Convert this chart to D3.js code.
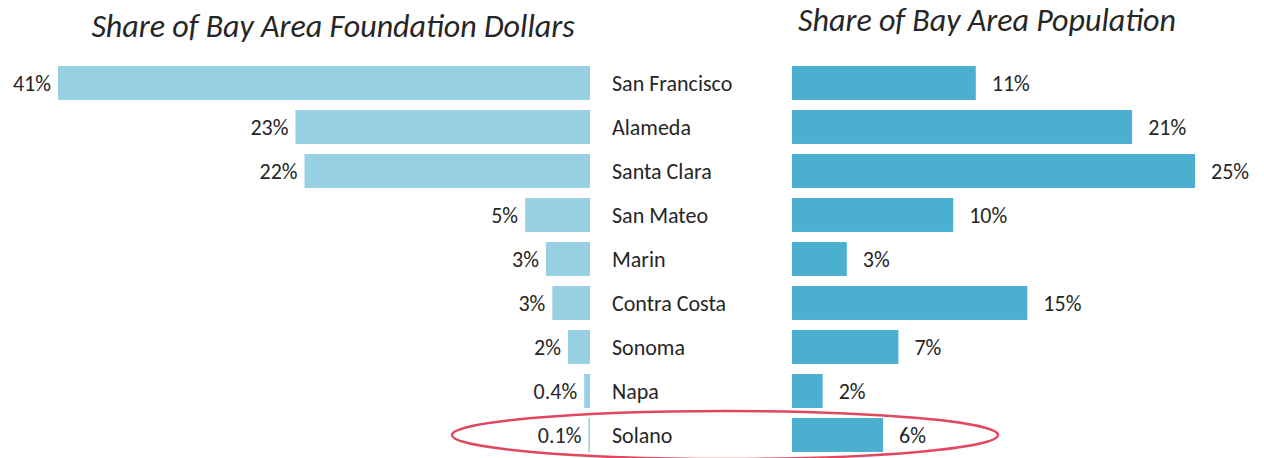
<!DOCTYPE html>
<html lang="en">
<head>
    <meta charset="UTF-8">
    <title>Share of Bay Area Foundation Dollars vs Population</title>
    <script src="https://d3js.org/d3.v7.min.js"></script>
    <style>
        body {
            margin: 0;
            background: #fff;
            font-family: Carlito, Calibri, Lato, sans-serif;
        }
        svg { display: block; }
    </style>
</head>
<body>
<div id="chart"></div>
<script>
// counties, top to bottom
const counties = ["San Francisco", "Alameda", "Santa Clara", "San Mateo", "Marin",
                  "Contra Costa", "Sonoma", "Napa", "Solano"];
// share of foundation dollars (%), with the labels printed on the chart
const dollars = [41, 22.7, 22, 5, 3.4, 2.9, 1.7, 0.45, 0.12];
const dollarLabels = ["41%", "23%", "22%", "5%", "3%", "3%", "2%", "0.4%", "0.1%"];
// share of population (%)
const population = [11.4, 21.1, 25, 10, 3.4, 14.6, 6.6, 1.9, 5.65];
const populationLabels = ["11%", "21%", "25%", "10%", "3%", "15%", "7%", "2%", "6%"];

const width = 1264, height = 458;
const svg = d3.select("#chart").append("svg")
  .attr("width", width)
  .attr("height", height);

// rows
const y = d3.scaleBand()
  .domain(counties)
  .range([61, 457])
  .paddingInner(0.23)
  .paddingOuter(0.115);

// left side grows leftwards from x=590
const xLeft = d3.scaleLinear().domain([0, 41]).range([590, 58]);
// right side grows rightwards from x=792
const xRight = d3.scaleLinear().domain([0, 25]).range([792, 1195]);

const rows = counties.map((c, i) => ({
  county: c,
  dollars: dollars[i], dLabel: dollarLabels[i],
  pop: population[i], pLabel: populationLabels[i]
}));

// titles
svg.append("text")
  .attr("x", 333).attr("y", 37)
  .attr("text-anchor", "middle")
  .attr("font-size", 32)
  .attr("font-style", "italic")
  .attr("fill", "#262626")
  .text("Share of Bay Area Foundation Dollars");

svg.append("text")
  .attr("x", 987).attr("y", 31)
  .attr("text-anchor", "middle")
  .attr("font-size", 32)
  .attr("font-style", "italic")
  .attr("fill", "#262626")
  .text("Share of Bay Area Population");

// left bars
svg.append("g")
  .selectAll("rect")
  .data(rows)
  .join("rect")
  .attr("x", d => xLeft(d.dollars))
  .attr("y", d => y(d.county))
  .attr("width", d => xLeft(0) - xLeft(d.dollars))
  .attr("height", y.bandwidth())
  .attr("fill", "#96d0e2");

svg.append("g")
  .selectAll("text")
  .data(rows)
  .join("text")
  .attr("x", d => xLeft(d.dollars) - 7)
  .attr("y", d => y(d.county) + y.bandwidth() / 2)
  .attr("dy", "0.35em")
  .attr("text-anchor", "end")
  .attr("font-size", 22)
  .attr("fill", "#262626")
  .text(d => d.dLabel);

// county names
svg.append("g")
  .selectAll("text")
  .data(rows)
  .join("text")
  .attr("x", 612)
  .attr("y", d => y(d.county) + y.bandwidth() / 2)
  .attr("dy", "0.35em")
  .attr("font-size", 22)
  .attr("fill", "#262626")
  .text(d => d.county);

// right bars
svg.append("g")
  .selectAll("rect")
  .data(rows)
  .join("rect")
  .attr("x", xRight(0))
  .attr("y", d => y(d.county))
  .attr("width", d => xRight(d.pop) - xRight(0))
  .attr("height", y.bandwidth())
  .attr("fill", "#4bafd0");

svg.append("g")
  .selectAll("text")
  .data(rows)
  .join("text")
  .attr("x", d => xRight(d.pop) + 16)
  .attr("y", d => y(d.county) + y.bandwidth() / 2)
  .attr("dy", "0.35em")
  .attr("font-size", 22)
  .attr("fill", "#262626")
  .text(d => d.pLabel);

// highlight Solano
const last = counties[counties.length - 1];
svg.append("ellipse")
  .attr("cx", 725)
  .attr("cy", y(last) + y.bandwidth() / 2)
  .attr("rx", 273)
  .attr("ry", 24)
  .attr("fill", "none")
  .attr("stroke", "#e2475f")
  .attr("stroke-width", 2.5);
</script>
</body>
</html>
